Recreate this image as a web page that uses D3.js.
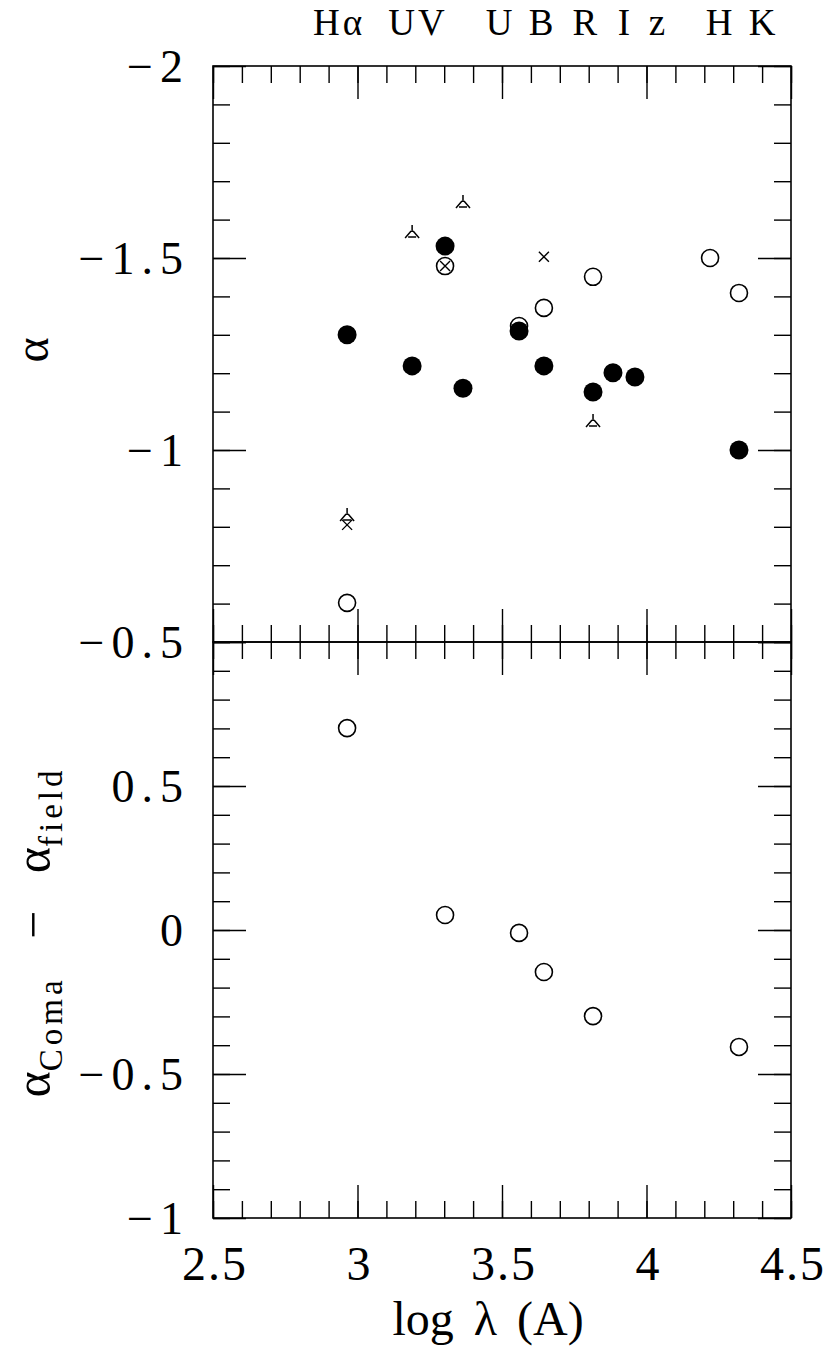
<!DOCTYPE html>
<html>
<head>
<meta charset="utf-8">
<script src="https://cdn.jsdelivr.net/npm/d3@7"></script>
<style>
  body { margin: 0; background: white; }
  svg text { font-family: "Liberation Serif", "DejaVu Serif", serif; fill: black; }
</style>
</head>
<body>
<div id="chart"></div>
<script>
// top panel: alpha per band
var filledX = [2.964, 3.189, 3.303, 3.365, 3.559, 3.645, 3.815, 3.884, 3.960, 4.320];
var filledY = [-1.300, -1.219, -1.531, -1.161, -1.310, -1.219, -1.151, -1.201, -1.190, -1.000];
var openX = [2.964, 3.303, 3.559, 3.645, 3.815, 4.220, 4.320];
var openY = [-0.602, -1.479, -1.323, -1.370, -1.451, -1.500, -1.409];
var crossX = [2.964, 3.303, 3.645];
var crossY = [-0.805, -1.479, -1.503];
var triX = [2.964, 3.189, 3.365, 3.815];
var triY = [-0.828, -1.565, -1.643, -1.073];

// bottom panel: alpha_Coma - alpha_field
var diffX = [2.964, 3.303, 3.559, 3.645, 3.815, 4.320];
var diffY = [0.701, 0.052, -0.010, -0.146, -0.299, -0.406];

// band names along the top
var bandNames = ["H\u03b1", "UV", "U", "B", "R", "I", "z", "H", "K"];
var bandX = [2.936, 3.209, 3.490, 3.635, 3.787, 3.922, 4.036, 4.251, 4.400];

var xTicks = [2.5, 3, 3.5, 4, 4.5];
var topTicks = [-2, -1.5, -1, -0.5];
var bottomTicks = [0.5, 0, -0.5, -1];

var
  WIDTH = 830,
  HEIGHT = 1349,
  LEFT = 213,
  RIGHT = 791,
  TOP = 66,
  MID = 642,
  BOTTOM = 1218,
  MAJOR = 33,
  MINOR = 17;

var svg = d3.select("#chart").append("svg")
  .attr("width", WIDTH)
  .attr("height", HEIGHT);

var x = d3.scaleLinear().domain([2.5, 4.5]).range([LEFT, RIGHT]);
var yTop = d3.scaleLinear().domain([-2, -0.5]).range([TOP, MID]);
var yBot = d3.scaleLinear().domain([1, -1]).range([MID, BOTTOM]);

function fmt(v){
  return (v < 0 ? "\u2212" : "") + String(Math.abs(v));
}

function drawFrame(y, y0, y1){
  var lo = Math.min(y.domain()[0], y.domain()[1]),
      hi = Math.max(y.domain()[0], y.domain()[1]);
  var yMinor = d3.range(Math.round(lo * 10), Math.round(hi * 10) + 1).map(function(d){ return d / 10; });
  var yMajor = yMinor.filter(function(d){ return Math.abs(d * 2 - Math.round(d * 2)) < 1e-6; });
  var xMinor = d3.range(25, 46).map(function(d){ return d / 10; });
  var xMajor = xMinor.filter(function(d){ return Math.abs(d * 2 - Math.round(d * 2)) < 1e-6; });

  function edge(axis, tx, ty, vals, size){
    var g = svg.append("g")
      .attr("transform", "translate(" + tx + "," + ty + ")")
      .call(axis.tickValues(vals).tickSize(size).tickFormat(""));
    g.select(".domain").remove();
    g.selectAll(".tick line").attr("stroke", "black").attr("stroke-width", 1.4);
  }

  [[xMinor, MINOR], [xMajor, MAJOR]].forEach(function(p){
    edge(d3.axisBottom(x), 0, y0, p[0], p[1]);
    edge(d3.axisTop(x), 0, y1, p[0], p[1]);
  });
  [[yMinor, MINOR], [yMajor, MAJOR]].forEach(function(p){
    edge(d3.axisRight(y), LEFT, 0, p[0], p[1]);
    edge(d3.axisLeft(y), RIGHT, 0, p[0], p[1]);
  });

  svg.append("rect")
    .attr("x", LEFT).attr("y", y0)
    .attr("width", RIGHT - LEFT).attr("height", y1 - y0)
    .attr("fill", "none").attr("stroke", "black").attr("stroke-width", 1.6);
}

drawFrame(yTop, TOP, MID);
drawFrame(yBot, MID, BOTTOM);

// y tick labels
function yLabels(y, vals){
  svg.selectAll(null).data(vals).enter().append("text")
    .attr("x", 190)
    .attr("y", function(d){ return y(d) + 16; })
    .attr("text-anchor", "end")
    .attr("font-size", 46)
    .attr("letter-spacing", 7)
    .text(fmt);
}
yLabels(yTop, topTicks);
yLabels(yBot, bottomTicks);

// x tick labels
svg.selectAll(null).data(xTicks).enter().append("text")
  .attr("x", function(d){ return x(d) + 2; })
  .attr("y", 1280)
  .attr("text-anchor", "middle")
  .attr("font-size", 48)
  .attr("letter-spacing", 2)
  .text(function(d){ return String(d); });

// band names
svg.selectAll(null).data(bandNames).enter().append("text")
  .attr("x", function(d, i){ return x(bandX[i]); })
  .attr("y", 35)
  .attr("text-anchor", "middle")
  .attr("font-size", 37)
  .attr("letter-spacing", function(d){ return d.length > 1 ? 3 : 0; })
  .text(function(d){ return d; });

// axis titles
svg.append("text")
  .attr("x", 488).attr("y", 1335)
  .attr("text-anchor", "middle")
  .attr("font-size", 48)
  .attr("word-spacing", 8)
  .text("log \u03bb (A)");

svg.append("text")
  .attr("transform", "translate(48,350) rotate(-90)")
  .attr("text-anchor", "middle")
  .attr("font-size", 48)
  .text("\u03b1");

var yt = svg.append("text")
  .attr("transform", "translate(50,932) rotate(-90)")
  .attr("text-anchor", "middle")
  .attr("font-size", 50);
yt.append("tspan").text("\u03b1");
yt.append("tspan").attr("font-size", 33).attr("letter-spacing", 4).attr("dy", 12).text("Coma");
yt.append("tspan").attr("dy", -12).attr("xml:space", "preserve").text("   \u2212   ");
yt.append("tspan").text("\u03b1");
yt.append("tspan").attr("font-size", 33).attr("letter-spacing", 4).attr("dy", 12).text("field");

// markers
function points(xs, ys, y){
  return xs.map(function(v, i){ return [x(v), y(ys[i])]; });
}

function openCircles(pts){
  svg.selectAll(null).data(pts).enter().append("circle")
    .attr("cx", function(d){ return d[0]; })
    .attr("cy", function(d){ return d[1]; })
    .attr("r", 8.5)
    .attr("fill", "white")
    .attr("stroke", "black")
    .attr("stroke-width", 1.6);
}

openCircles(points(openX, openY, yTop));

svg.selectAll(null).data(points(filledX, filledY, yTop)).enter().append("circle")
  .attr("cx", function(d){ return d[0]; })
  .attr("cy", function(d){ return d[1]; })
  .attr("r", 9.5)
  .attr("fill", "black");

svg.selectAll(null).data(points(crossX, crossY, yTop)).enter().append("path")
  .attr("transform", function(d){ return "translate(" + d[0] + "," + d[1] + ")"; })
  .attr("d", "M-5,-5L5,5M-5,5L5,-5")
  .attr("stroke", "black")
  .attr("stroke-width", 1.4)
  .attr("fill", "none");

svg.selectAll(null).data(points(triX, triY, yTop)).enter().append("path")
  .attr("transform", function(d){ return "translate(" + d[0] + "," + d[1] + ")"; })
  .attr("d", "M0,-8L0,-1M-1,-2L-7,5M1,-2L7,5M-4,4L4,4")
  .attr("stroke", "black")
  .attr("stroke-width", 1.5)
  .attr("fill", "none");

openCircles(points(diffX, diffY, yBot));
</script>
</body>
</html>
